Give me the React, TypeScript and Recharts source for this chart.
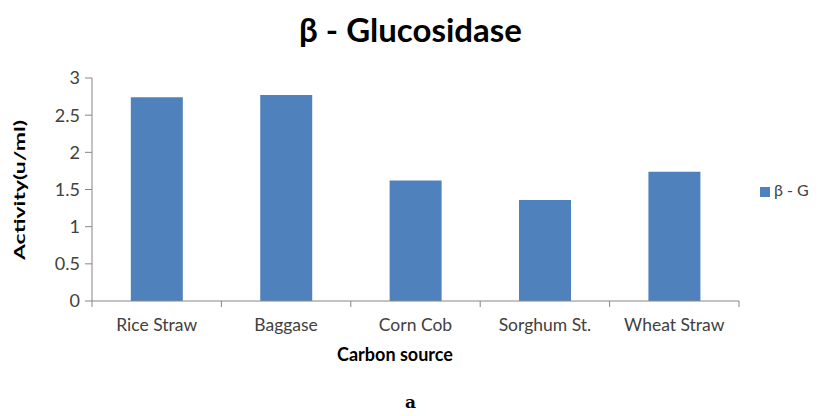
import { BarChart, Bar, XAxis, YAxis, Legend } from "recharts";

const categories = ["Rice Straw", "Baggase", "Corn Cob", "Sorghum St.", "Wheat Straw"];
const activity = [2.74, 2.77, 1.62, 1.36, 1.74];
const yTicks = [0, 0.5, 1, 1.5, 2, 2.5, 3];

const data = categories.map((name, i) => ({ name, value: activity[i] }));

const W = 821;
const H = 416;
const LEFT = 12;
const YW = 80;
const RIGHT = 82;
const BAND = (W - LEFT - YW - RIGHT) / categories.length;
const AXIS = "#868686";
const TEXT = "#404040";
const FONT = "Lato, 'Open Sans', sans-serif";

const CategoryTick = (props: any) => {
	const { x, y, payload, index } = props;
	const half = BAND / 2;
	return (
		<g>
			<line x1={x - half} y1={y} x2={x - half} y2={y + 6} stroke={AXIS} />
			{index === categories.length - 1 && (
				<line x1={x + half} y1={y} x2={x + half} y2={y + 6} stroke={AXIS} />
			)}
			<text
				x={x}
				y={y + 30}
				textAnchor="middle"
				fontSize={17.5}
				fill={TEXT}
				fontFamily={FONT}
			>
				{payload.value}
			</text>
		</g>
	);
};

export default function App() {
	return (
		<div
			style={{
				position: "absolute",
				left: 0,
				top: 0,
				width: W,
				height: H,
				background: "#fff",
				fontFamily: FONT,
			}}
		>
			<div
				style={{
					position: "absolute",
					left: 0,
					width: W,
					top: 9,
					textAlign: "center",
					fontSize: 33,
					fontWeight: 700,
					color: "#000",
				}}
			>
				β - Glucosidase
			</div>
			<BarChart
				width={W}
				height={H}
				data={data}
				margin={{ top: 78, right: RIGHT, bottom: 85, left: LEFT }}
				barCategoryGap="30%"
			>
				<XAxis
					dataKey="name"
					height={30}
					axisLine={{ stroke: AXIS }}
					tickLine={false}
					tickSize={0}
					tickMargin={0}
					tick={<CategoryTick />}
					interval={0}
				/>
				<YAxis
					width={YW}
					domain={[0, 3]}
					ticks={yTicks}
					interval={0}
					axisLine={{ stroke: AXIS }}
					tickLine={{ stroke: AXIS }}
					tickSize={7}
					tickMargin={5}
					tick={{ fontSize: 18, fill: TEXT, fontFamily: FONT }}
				/>
				<Legend
					layout="vertical"
					align="center"
					verticalAlign="middle"
					iconType="square"
					iconSize={10}
					wrapperStyle={{ left: 760, top: 180, width: 61, fontSize: 16, fontFamily: FONT }}
					formatter={(v: string) => <span style={{ color: TEXT }}>{v}</span>}
				/>
				<Bar dataKey="value" name="β - G" fill="#4F81BD" isAnimationActive={false} />
			</BarChart>
			<svg
				width={40}
				height={200}
				style={{ position: "absolute", left: 0, top: 90 }}
			>
				<text
					x={0}
					y={0}
					transform="translate(25 100) rotate(-90)"
					textAnchor="middle"
					fontSize={15}
					fontWeight={700}
					fontFamily={FONT}
					textLength={140}
					lengthAdjust="spacingAndGlyphs"
					fill="#000"
				>
					Activity(u/ml)
				</text>
			</svg>
			<div
				style={{
					position: "absolute",
					left: 295,
					width: 200,
					top: 343,
					textAlign: "center",
					fontSize: 18,
					fontWeight: 700,
					color: "#000",
				}}
			>
				Carbon source
			</div>
			<div
				style={{
					position: "absolute",
					left: 0,
					width: W,
					top: 392,
					textAlign: "center",
					fontFamily: "'DejaVu Serif', serif",
					fontWeight: 700,
					fontSize: 17,
					color: "#000",
				}}
			>
				a
			</div>
		</div>
	);
}
